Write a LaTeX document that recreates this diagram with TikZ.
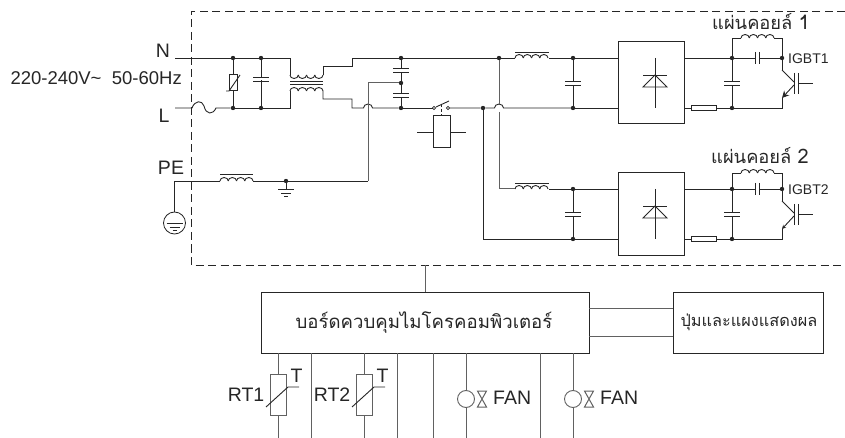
\documentclass[tikz,border=0pt]{standalone}
\usepackage{fontspec}
\setmainfont{Liberation Sans}
\newfontfamily\thaifont[Script=Thai]{Loma}
\usetikzlibrary{arrows.meta,positioning}
\definecolor{wirecol}{gray}{0.15}
\definecolor{leadcol}{gray}{0.38}
\tikzset{
    wire/.style={draw=wirecol, line width=0.9pt},
    lead/.style={draw=leadcol, line width=1pt},
    dashbox/.style={draw=wirecol, line width=0.8pt, dash pattern=on 8pt off 4.5pt},
    dotnode/.style={circle, fill=wirecol, inner sep=0pt, minimum size=4.4pt},
    boxnode/.style={draw=wirecol, line width=1pt, rectangle, inner sep=0pt},
    label/.style={text=black!85, inner sep=0pt, font=\fontsize{19.5}{21}\selectfont},
    small label/.style={label, font=\fontsize{14}{16}\selectfont},
    thai label/.style={text=black!85, inner sep=0pt, font=\thaifont\fontsize{18.3}{22}\selectfont},
    coil/.pic={
        \foreach \i in {0,1,2,3}
            \draw[wire] (\i*8.25,0) arc (180:360:4.125 and 3.5);
    },
    coil down/.pic={
        \foreach \i in {0,1,2,3}
            \draw[wire] (\i*8.25,0) arc (180:0:4.125 and 3.5);
    },
    capv/.pic={
        \draw[wire] (-8,-2) -- (8,-2);
        \draw[wire] (-8,2) -- (8,2);
    },
    diode/.pic={
        \draw[wire] (0,-25) -- (0,25);
        \draw[wire] (-12,-8) -- (12,-8);
        \draw[wire] (0,-8) -- (-12,4) -- (12,4) -- cycle;
    },
    igbt/.pic={
        \draw[wire] (12,-10) -- (12,11);
        \draw[wire] (16,-10) -- (16,11);
        \draw[wire] (16,0) -- (31,0);
        \draw[wire] (0,-13) -- (12,-1);
        \draw[wire, -{Stealth[length=\tiplen pt,width=\tiplen pt]}] (12,2) -- (0,15);
    },
    groundsym/.pic={
        \draw[wire] (-8,0) -- (8,0);
        \draw[wire] (-5,4) -- (5,4);
        \draw[wire] (-2,7.5) -- (2,7.5);
    },
    fanmark/.pic={
        \draw[lead] (-4.5,-8) -- (4.5,-8) -- (-4.5,8) -- (4.5,8) -- cycle;
    }
}

\begin{document}
\begin{tikzpicture}[x=1pt,y=-1pt]
	\useasboundingbox (0,0) rectangle (845,438);

	% outer dashed frame
	\coordinate (frameTR) at (845,11);
	\coordinate (frameTL) at (191,11);
	\coordinate (frameBL) at (191,265);
	\coordinate (frameBR) at (845,265);
	\draw[dashbox] (frameTR) -- (frameTL) -- (frameBL) -- (frameBR);

	% mains input
	\node[label] (lblN) at (163,51) {N};
	\node[label] (lblL) at (164,115.5) {L};
	\node[label] (lblPE) at (171,168) {PE};
	\node[label, anchor=east, font=\fontsize{18.5}{21}\selectfont] (lblV) at (182,78) {220-240V\textasciitilde{}\hspace{0.28em} 50-60Hz};

	\coordinate (inN) at (175,58);
	\coordinate (inL) at (175,108);
	\coordinate (fuseA) at (192,108);
	\coordinate (fuseB) at (216,108);
	\foreach \name/\xx in {jA/233,jB/261,jD/401}{
		\node[dotnode] (\name N) at (\xx,58) {};
		\node[dotnode] (\name L) at (\xx,108) {};
	}
	\node[dotnode] (jDM) at (401,83) {};
	\draw[wire] (inL) -- (fuseA) .. controls (195,100) and (202,100) .. (204,106)
		.. controls (206,115) and (213,115) .. (fuseB) -- (jAL);

	% varistor
	\node[boxnode, minimum width=8pt, minimum height=16pt] (varistor) at (233,83) {};
	\draw[wire] (jAN) -- (varistor.north);
	\draw[wire] (varistor.south) -- (jAL);
	\draw[wire] (226,91) -- (229,91) -- (240,75);

	% filter capacitor and common mode choke
	\draw[wire] (jBN) -- (jBL);
	\fill[white] (252,77.5) rectangle (270,80.5);
	\pic at (261,79) {capv};
	\coordinate (chokeNa) at (290,75);
	\coordinate (chokeNb) at (323,75);
	\coordinate (chokeLa) at (290,91);
	\coordinate (chokeLb) at (323,91);
	\draw[wire] (inN) -- (jAN) -- (jBN) -- (290,58) -- (chokeNa);
	\pic at (chokeNa) {coil down};
	\draw[wire] (chokeNb) -- (323,66) -- (352,66) -- (352,58) -- (jDN);
	\draw[wire] (jAL) -- (jBL) -- (290,108) -- (chokeLa);
	\pic at (chokeLa) {coil};
	\draw[wire] (chokeLb) -- (323,99) -- (352,99) -- (352,108) -- (363.5,108)
		arc (180:0:4.5 and -4) -- (jDL);
	\draw[wire] (chokeNa) ++(0,6) -- ++(33,0);
	\draw[wire] (chokeNa) ++(0,9.5) -- ++(33,0);

	% y capacitors
	\draw[wire] (jDN) -- (jDL);
	\fill[white] (392,68) rectangle (410,72);
	\fill[white] (392,93) rectangle (410,97);
	\pic at (401,70) {capv};
	\pic at (401,95) {capv};

	% earth
	\coordinate (earthTop) at (174.5,181);
	\node[circle, draw=wirecol, line width=0.8pt, minimum size=22pt, inner sep=0pt] (earthSym) at (174.5,223) {};
	\pic at (174.5,223) {groundsym};
	\draw[wire] (earthSym.north) -- (earthTop) -- (220,181);
	\pic at (220,181) {coil};
	\draw[wire] (220,174) -- (253,174);
	\node[dotnode] (jG) at (286,181) {};
	\draw[wire] (253,181) -- (jG) -- (368,181);
	\draw[wire] (jG) -- (286,189);
	\pic at (286,189) {groundsym};
	\coordinate (hopTop) at (368,83);
	\draw[lead] (368,181) -- (hopTop);
	\draw[lead] (hopTop) -- (jDM);

	% top rail and relay
	\node[dotnode] (jE) at (499,58) {};
	\node[dotnode] (jF) at (483,108) {};
	\draw[wire] (jDN) -- (jE) -- (515,58);
	\draw[wire] (jDL) -- (432.5,108);
	\draw[wire] (449.5,108) -- (jF) -- (494.5,108) arc (180:0:4.5 and -4) -- (573,108);
	\draw[wire, line width=0.6pt] (434,108) circle (1.6);
	\draw[wire, line width=0.6pt] (448,108) circle (1.6);
	\draw[wire] (436,107) -- (449,101);
	\draw[wire, densely dashed] (441.5,104) -- (441.5,116);
	\node[boxnode, minimum width=17pt, minimum height=32pt] (relay) at (441.5,132) {};
	\draw[wire] (417,132) -- (relay.west);
	\draw[wire] (relay.east) -- (466,132);

	% upper and lower power stages
	\foreach \name/\dy/\igbtlabel/\tiplen in {up/0/IGBT1/7,low/131/IGBT2/4}{
		\begin{scope}[yshift=-\dy pt]
			\node[boxnode, minimum width=66pt, minimum height=82pt] (rect\name) at (651,83) {};
			\pic at (655,83) {diode};
			\pic at (515,58) {coil};
			\draw[wire] (515,52) -- (549,52);
			\node[dotnode] (jH\name) at (573,58) {};
			\node[dotnode] (jI\name) at (573,108) {};
			\draw[wire] (549,58) -- (jH\name) -- (rect\name.west |- jH\name);
			\draw[wire] (jH\name) -- (jI\name);
			\fill[white] (564,81) rectangle (582,85);
			\pic at (573,83) {capv};
			\draw[wire] (jI\name) -- (rect\name.west |- jI\name);
			\node[dotnode] (jJ\name) at (732,58) {};
			\node[dotnode] (jK\name) at (732,108) {};
			\node[dotnode] (jL\name) at (782,58) {};
			\draw[wire] (rect\name.east |- jJ\name) -- (jJ\name) -- (755,58);
			\draw[wire] (755,52) -- (755,64);
			\draw[wire] (759,52) -- (759,64);
			\draw[wire] (759,58) -- (jL\name);
			\draw[wire] (jJ\name) -- (jK\name);
			\fill[white] (723,81) rectangle (741,85);
			\pic at (732,83) {capv};
			\node[boxnode, minimum width=25pt, minimum height=5.5pt] (res\name) at (703.5,108) {};
			\draw[wire] (rect\name.east |- res\name) -- (res\name.west);
			\draw[wire] (res\name.east) -- (jK\name);
			\pic at (782,83) {igbt};
			\draw[wire] (jL\name) -- (782,70);
			\draw[wire] (782,98) -- (782,108) -- (jK\name);
			\node[small label, anchor=west] (lbl\name) at (788,59) {\igbtlabel};
		\end{scope}
	}
	\draw[wire] (jJup) -- (732,38) -- (741,38);
	\pic at (741,38) {coil};
	\draw[wire] (774,38) -- (782,38) -- (jLup);
	\draw[wire] (jJlow) -- (732,173) -- (741,173);
	\pic at (741,173) {coil};
	\draw[wire] (774,173) -- (782,173) -- (jLlow);
	\node[thai label, anchor=west] (coilA) at (712,22) {แผ่นคอยล์ \fontsize{20}{22}\selectfont 1};
	\node[thai label, anchor=west] (coilB) at (711,156) {แผ่นคอยล์ \fontsize{20}{22}\selectfont 2};

	% feeds into lower stage
	\draw[lead] (jE) -- (499,104);
	\draw[lead] (499,112) -- (499,189) -- (515,189);
	\draw[wire] (jF) -- (483,239) -- (rectlow.west |- jIlow);

	% control board
	\node[boxnode, minimum width=328pt, minimum height=61pt] (board) at (425,322.5) {};
	\node[boxnode, minimum width=150pt, minimum height=61pt] (panel) at (748,322.5) {};
	\node[thai label, font=\thaifont\fontsize{18.6}{22}\selectfont] (boardText) at (424,323) {บอร์ดควบคุมไมโครคอมพิวเตอร์};
	\node[thai label, font=\thaifont\fontsize{16.3}{20}\selectfont] (panelText) at (749,322) {ปุ่มและแผงแสดงผล};
	\draw[lead] (425,265) -- (board.north);
	\draw[lead] (589,308) -- (673,308);
	\draw[lead] (589,336) -- (673,336);

	% leads below the board
	\foreach \xx in {311,397,433,540}
		\draw[lead] (\xx,353) -- (\xx,438);
	\foreach \name/\xx in {A/278,B/364}{
		\node[boxnode, minimum width=16pt, minimum height=41pt, draw=leadcol] (rt\name) at (\xx,394.5) {};
		\draw[lead] (\xx,353) -- (rt\name.north);
		\draw[lead] (rt\name.south) -- (\xx,438);
		\draw[wire] (\xx-12,407) -- (\xx+10,387) -- (\xx+21,387);
		\node[label] (tmp\name) at (\xx+18.5,376) {T};
	}
	\node[label, anchor=east] (lblRTa) at (264.5,395) {RT1};
	\node[label, anchor=east] (lblRTb) at (350.5,395) {RT2};
	\foreach \name/\xx in {A/466,B/573}{
		\node[circle, draw=leadcol, line width=0.9pt, minimum size=17pt, inner sep=0pt] (fan\name) at (\xx,399) {};
		\draw[lead] (\xx,353) -- (fan\name.north);
		\draw[lead] (fan\name.south) -- (\xx,438);
		\pic at (\xx+16,399) {fanmark};
		\node[label, anchor=west] (lblFan\name) at (\xx+27,398) {FAN};
	}
\end{tikzpicture}
\end{document}
